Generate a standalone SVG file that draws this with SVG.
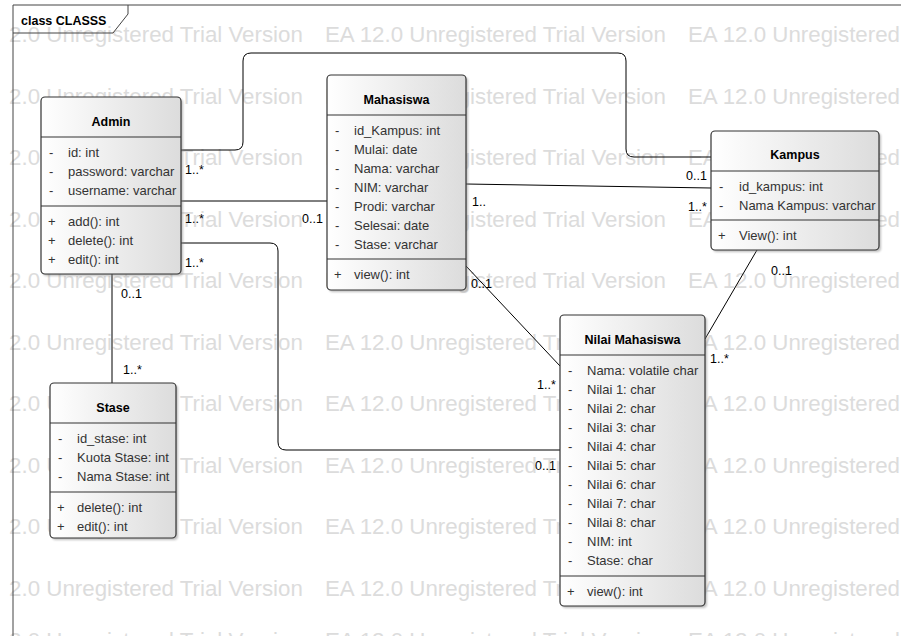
<svg xmlns="http://www.w3.org/2000/svg" xmlns:xlink="http://www.w3.org/1999/xlink" width="901" height="636" viewBox="0 0 901 636">
<style>
text{font-family:"Liberation Sans",Arial,sans-serif}
.wm{font-size:22.3px;fill:#dcdcdc}
.box{fill:url(#g);stroke:#333;stroke-width:1.2}
.sh{fill:#8a8a8a;opacity:.55;filter:url(#blur)}
.sep{stroke:#333;stroke-width:1.2}
.t{font-size:12.5px;font-weight:bold;fill:#000;text-anchor:middle}
.m{font-size:13px;fill:#333}
.l{font-size:12.5px;fill:#000}
.c{fill:none;stroke:#000;stroke-width:1}
.fr{fill:none;stroke:#444;stroke-width:1}
</style>
<defs>
<linearGradient id="g" x1="0" y1="0" x2="1" y2="0">
<stop offset="0" stop-color="#ffffff"/>
<stop offset="1" stop-color="#dcdcdc"/>
</linearGradient>
<filter id="blur" x="-10%" y="-10%" width="120%" height="120%"><feGaussianBlur stdDeviation="1.2"/></filter>
<clipPath id="wc"><rect x="9" y="0" width="892" height="636"/></clipPath>
<text id="wr" class="wm"><tspan x="-38">EA 12.0 Unregistered Trial Version</tspan><tspan x="325">EA 12.0 Unregistered Trial Version</tspan><tspan x="688">EA 12.0 Unregistered Trial Version</tspan></text>
</defs>
<rect width="901" height="636" fill="#fff"/>
<g id="watermark" clip-path="url(#wc)">
<use xlink:href="#wr" y="42"/>
<use xlink:href="#wr" y="103.5"/>
<use xlink:href="#wr" y="165"/>
<use xlink:href="#wr" y="226.5"/>
<use xlink:href="#wr" y="288"/>
<use xlink:href="#wr" y="349.5"/>
<use xlink:href="#wr" y="411"/>
<use xlink:href="#wr" y="472.5"/>
<use xlink:href="#wr" y="534"/>
<use xlink:href="#wr" y="595.5"/>
<use xlink:href="#wr" y="648"/>
</g>
<g id="frame">
<path class="fr" d="M13,636 V5 H901"/>
<path class="fr" d="M13,33 H113 L128,14 V5"/>
<text x="21" y="25" style="font-size:12.5px;font-weight:bold;fill:#000">class CLASSS</text>
</g>
<g id="connectors">
<path class="c" d="M181,150 H235 Q243,150 243,142 V61 Q243,53 251,53 H618 Q626,53 626,61 V149 Q626,157 634,157 H711"/>
<path class="c" d="M181,201 H327"/>
<path class="c" d="M181,243 H270 Q278,243 278,251 V442 Q278,450 286,450 H560"/>
<path class="c" d="M112,274 V383"/>
<path class="c" d="M466,184 L711,188"/>
<path class="c" d="M466,266 L560,366"/>
<path class="c" d="M757,250 L705,339"/>
<text class="l" x="185" y="174">1..*</text>
<text class="l" x="185" y="223">1..*</text>
<text class="l" x="185" y="267">1..*</text>
<text class="l" x="302" y="223">0..1</text>
<text class="l" x="121" y="298">0..1</text>
<text class="l" x="123" y="374">1..*</text>
<text class="l" x="535" y="470">0..1</text>
<text class="l" x="537" y="389">1..*</text>
<text class="l" x="471" y="288">0..1</text>
<text class="l" x="472" y="206">1..</text>
<text class="l" x="686" y="180">0..1</text>
<text class="l" x="688" y="211">1..*</text>
<text class="l" x="771" y="275">0..1</text>
<text class="l" x="710" y="363">1..*</text>
</g>
<g id="Admin">
<rect class="sh" x="43" y="99" width="140" height="177" rx="4"/>
<rect class="box" x="41" y="97" width="140" height="177" rx="4"/>
<line class="sep" x1="41" y1="137" x2="181" y2="137"/>
<line class="sep" x1="41" y1="206" x2="181" y2="206"/>
<text class="t" x="111" y="126">Admin</text>
<text class="m" x="49" y="157">-</text><text class="m" x="68" y="157">id: int</text>
<text class="m" x="49" y="176">-</text><text class="m" x="68" y="176">password: varchar</text>
<text class="m" x="49" y="195">-</text><text class="m" x="68" y="195">username: varchar</text>
<text class="m" x="48" y="226">+</text><text class="m" x="68" y="226">add(): int</text>
<text class="m" x="48" y="245">+</text><text class="m" x="68" y="245">delete(): int</text>
<text class="m" x="48" y="264">+</text><text class="m" x="68" y="264">edit(): int</text>
</g>
<g id="Mahasiswa">
<rect class="sh" x="329" y="77" width="139" height="215" rx="4"/>
<rect class="box" x="327" y="75" width="139" height="215" rx="4"/>
<line class="sep" x1="327" y1="115" x2="466" y2="115"/>
<line class="sep" x1="327" y1="259" x2="466" y2="259"/>
<text class="t" x="396.5" y="104">Mahasiswa</text>
<text class="m" x="335" y="135">-</text><text class="m" x="354" y="135">id_Kampus: int</text>
<text class="m" x="335" y="154">-</text><text class="m" x="354" y="154">Mulai: date</text>
<text class="m" x="335" y="173">-</text><text class="m" x="354" y="173">Nama: varchar</text>
<text class="m" x="335" y="192">-</text><text class="m" x="354" y="192">NIM: varchar</text>
<text class="m" x="335" y="211">-</text><text class="m" x="354" y="211">Prodi: varchar</text>
<text class="m" x="335" y="230">-</text><text class="m" x="354" y="230">Selesai: date</text>
<text class="m" x="335" y="249">-</text><text class="m" x="354" y="249">Stase: varchar</text>
<text class="m" x="334" y="279">+</text><text class="m" x="354" y="279">view(): int</text>
</g>
<g id="Kampus">
<rect class="sh" x="713" y="133" width="168" height="119" rx="4"/>
<rect class="box" x="711" y="131" width="168" height="119" rx="4"/>
<line class="sep" x1="711" y1="171" x2="879" y2="171"/>
<line class="sep" x1="711" y1="220" x2="879" y2="220"/>
<text class="t" x="795" y="159">Kampus</text>
<text class="m" x="719" y="191">-</text><text class="m" x="739" y="191">id_kampus: int</text>
<text class="m" x="719" y="210">-</text><text class="m" x="739" y="210">Nama Kampus: varchar</text>
<text class="m" x="718" y="240">+</text><text class="m" x="739" y="240">View(): int</text>
</g>
<g id="NilaiMahasiswa">
<rect class="sh" x="562" y="317" width="145" height="291" rx="4"/>
<rect class="box" x="560" y="315" width="145" height="291" rx="4"/>
<line class="sep" x1="560" y1="355" x2="705" y2="355"/>
<line class="sep" x1="560" y1="576" x2="705" y2="576"/>
<text class="t" x="632.5" y="344">Nilai Mahasiswa</text>
<text class="m" x="568" y="375">-</text><text class="m" x="587" y="375">Nama: volatile char</text>
<text class="m" x="568" y="394">-</text><text class="m" x="587" y="394">Nilai 1: char</text>
<text class="m" x="568" y="413">-</text><text class="m" x="587" y="413">Nilai 2: char</text>
<text class="m" x="568" y="432">-</text><text class="m" x="587" y="432">Nilai 3: char</text>
<text class="m" x="568" y="451">-</text><text class="m" x="587" y="451">Nilai 4: char</text>
<text class="m" x="568" y="470">-</text><text class="m" x="587" y="470">Nilai 5: char</text>
<text class="m" x="568" y="489">-</text><text class="m" x="587" y="489">Nilai 6: char</text>
<text class="m" x="568" y="508">-</text><text class="m" x="587" y="508">Nilai 7: char</text>
<text class="m" x="568" y="527">-</text><text class="m" x="587" y="527">Nilai 8: char</text>
<text class="m" x="568" y="546">-</text><text class="m" x="587" y="546">NIM: int</text>
<text class="m" x="568" y="565">-</text><text class="m" x="587" y="565">Stase: char</text>
<text class="m" x="567" y="596">+</text><text class="m" x="587" y="596">view(): int</text>
</g>
<g id="Stase">
<rect class="sh" x="52" y="385" width="126" height="155" rx="4"/>
<rect class="box" x="50" y="383" width="126" height="155" rx="4"/>
<line class="sep" x1="50" y1="423" x2="176" y2="423"/>
<line class="sep" x1="50" y1="492" x2="176" y2="492"/>
<text class="t" x="113" y="412">Stase</text>
<text class="m" x="58" y="443">-</text><text class="m" x="77" y="443">id_stase: int</text>
<text class="m" x="58" y="462">-</text><text class="m" x="77" y="462">Kuota Stase: int</text>
<text class="m" x="58" y="481">-</text><text class="m" x="77" y="481">Nama Stase: int</text>
<text class="m" x="57" y="512">+</text><text class="m" x="77" y="512">delete(): int</text>
<text class="m" x="57" y="531">+</text><text class="m" x="77" y="531">edit(): int</text>
</g>
</svg>
